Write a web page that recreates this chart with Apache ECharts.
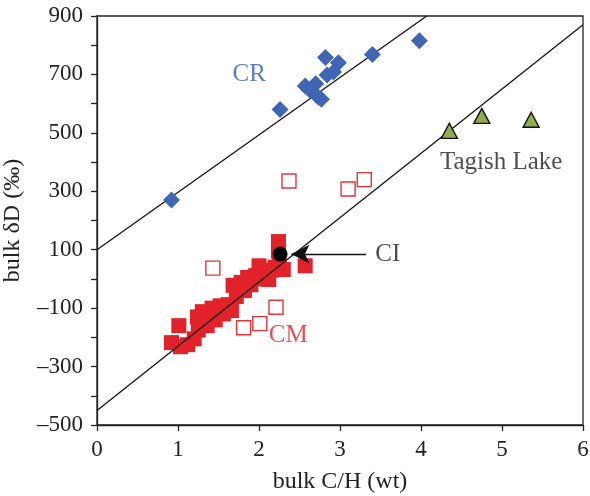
<!DOCTYPE html>
<html>
<head>
<meta charset="utf-8">
<script src="https://cdn.jsdelivr.net/npm/echarts@6/dist/echarts.min.js"></script>
<style>html,body{margin:0;padding:0;background:#fff}#c{width:590px;height:496px}</style>
</head>
<body>
<div id="c"></div>
<script>
// ---- data ----
const xTicks = [0, 1, 2, 3, 4, 5, 6];
const yTicks = [-500, -300, -100, 100, 300, 500, 700, 900];
const crPoints = [
  [0.92, 270], [2.26, 580], [2.57, 660], [2.63, 646], [2.70, 668], [2.73, 623],
  [2.77, 615], [2.82, 758], [2.84, 698], [2.92, 708], [2.98, 740], [3.40, 768], [3.98, 815]
];
const tagishPoints = [[4.35, 507], [4.75, 558], [5.36, 545]];
const cmOpenPoints = [[1.43, 37], [2.37, 335], [3.10, 308], [3.30, 340], [1.81, -167], [2.01, -153], [2.21, -97]];
const cmFilledPoints = [
  [0.92, -218], [1.03, -232], [1.01, -160], [1.12, -225], [1.20, -205], [1.25, -175],
  [1.24, -130], [1.30, -112], [1.36, -160], [1.42, -100], [1.46, -140], [1.52, -92],
  [1.56, -120], [1.62, -88], [1.66, -108], [1.68, -22], [1.72, -60], [1.78, -12],
  [1.82, -40], [1.86, 5], [1.90, -20], [1.96, 12], [2.00, 45], [2.02, 0], [2.08, 22],
  [2.12, -2], [2.15, 30], [2.20, 40], [2.24, 128], [2.24, 95], [2.25, 62], [2.30, 32], [2.57, 45]
];
const ciPoint = [[2.26, 85]];
const crLine = [[0, 100], [4.07, 900]];
const cmLine = [[0, -450], [6, 870]];
const ciArrow = [[3.32, 85], [2.40, 85]];
const labels = [
  { text: 'CR', at: [1.88, 700], color: '#3a5eab' },
  { text: 'Tagish Lake', at: [4.99, 400], color: '#222' },
  { text: 'CM', at: [2.36, -194], color: '#d8282c' },
  { text: 'CI', at: [3.59, 84], color: '#222' }
];

const FONT = 'Liberation Serif';
const chart = echarts.init(document.getElementById('c'));
const dash = v => v < 0 ? '\u2013' + Math.abs(v) : String(v);

chart.setOption({
  animation: false,
  grid: { left: 97, right: 7, top: 16, bottom: 71, containLabel: false, outerBoundsMode: 'none',
    show: true, borderColor: '#222', borderWidth: 1.3, backgroundColor: 'transparent' },
  xAxis: {
    type: 'value', min: 0, max: 6, interval: 1,
    name: 'bulk C/H (wt)', nameLocation: 'middle', nameGap: 45,
    nameTextStyle: { fontFamily: FONT, fontSize: 24, color: '#222', verticalAlign: 'top' },
    axisLine: { show: true, onZero: false, lineStyle: { color: '#222', width: 1.3 } },
    axisTick: { show: true, length: 6, lineStyle: { color: '#222', width: 1.3 } },
    axisLabel: { fontFamily: FONT, fontSize: 23, color: '#222', margin: 13,
      formatter: v => xTicks.includes(v) ? String(v) : '' },
    splitLine: { show: false }
  },
  yAxis: {
    type: 'value', min: -500, max: 900, interval: 100,
    name: 'bulk \u03b4D (\u2030)', nameLocation: 'middle', nameGap: 72,
    nameTextStyle: { fontFamily: FONT, fontSize: 24, color: '#222' },
    axisLine: { show: true, onZero: false, lineStyle: { color: '#222', width: 1.3 } },
    axisTick: { show: true, length: 6, lineStyle: { color: '#222', width: 1.3 } },
    axisLabel: { fontFamily: FONT, fontSize: 23, color: '#222', margin: 14,
      formatter: v => yTicks.includes(v) ? dash(v) : '' },
    splitLine: { show: false }
  },
  series: [
    { type: 'line', data: crLine, symbol: 'none', lineStyle: { color: '#111', width: 1.3 }, z: 1, silent: true },
    { type: 'line', data: cmLine, symbol: 'none', lineStyle: { color: '#111', width: 1.3 }, z: 3, silent: true },
    { type: 'scatter', data: crPoints, symbol: 'diamond', symbolSize: 17,
      itemStyle: { color: '#3f65b3', opacity: 1 }, z: 2 },
    { type: 'scatter', data: cmFilledPoints, symbol: 'rect', symbolSize: 15,
      itemStyle: { color: '#e2222a', opacity: 1 }, z: 2 },
    { type: 'scatter', data: cmOpenPoints, symbol: 'rect', symbolSize: 14,
      itemStyle: { color: '#fff', borderColor: '#e0363a', borderWidth: 1.4, opacity: 1 }, z: 2 },
    { type: 'scatter', data: tagishPoints, symbol: 'triangle', symbolSize: [16, 15],
      itemStyle: { color: '#8db04c', borderColor: '#111', borderWidth: 1.4, opacity: 1 }, z: 4 },
    { type: 'scatter', data: ciPoint, symbol: 'circle', symbolSize: 15,
      itemStyle: { color: '#000', opacity: 1 }, z: 5,
      markLine: {
        silent: true, animation: false,
        symbol: ['none', 'arrow'], symbolSize: [14, 18],
        lineStyle: { type: 'solid', color: '#111', width: 1.4 },
        label: { show: false },
        data: [[{ coord: ciArrow[0] }, { coord: ciArrow[1] }]]
      } },
    { type: 'scatter', symbolSize: 0, z: 6, silent: true,
      data: labels.map(l => ({ value: l.at, label: { show: true, position: 'inside', formatter: l.text,
        fontFamily: FONT, fontSize: 25, color: l.color } })) }
  ]
});
</script>
</body>
</html>
